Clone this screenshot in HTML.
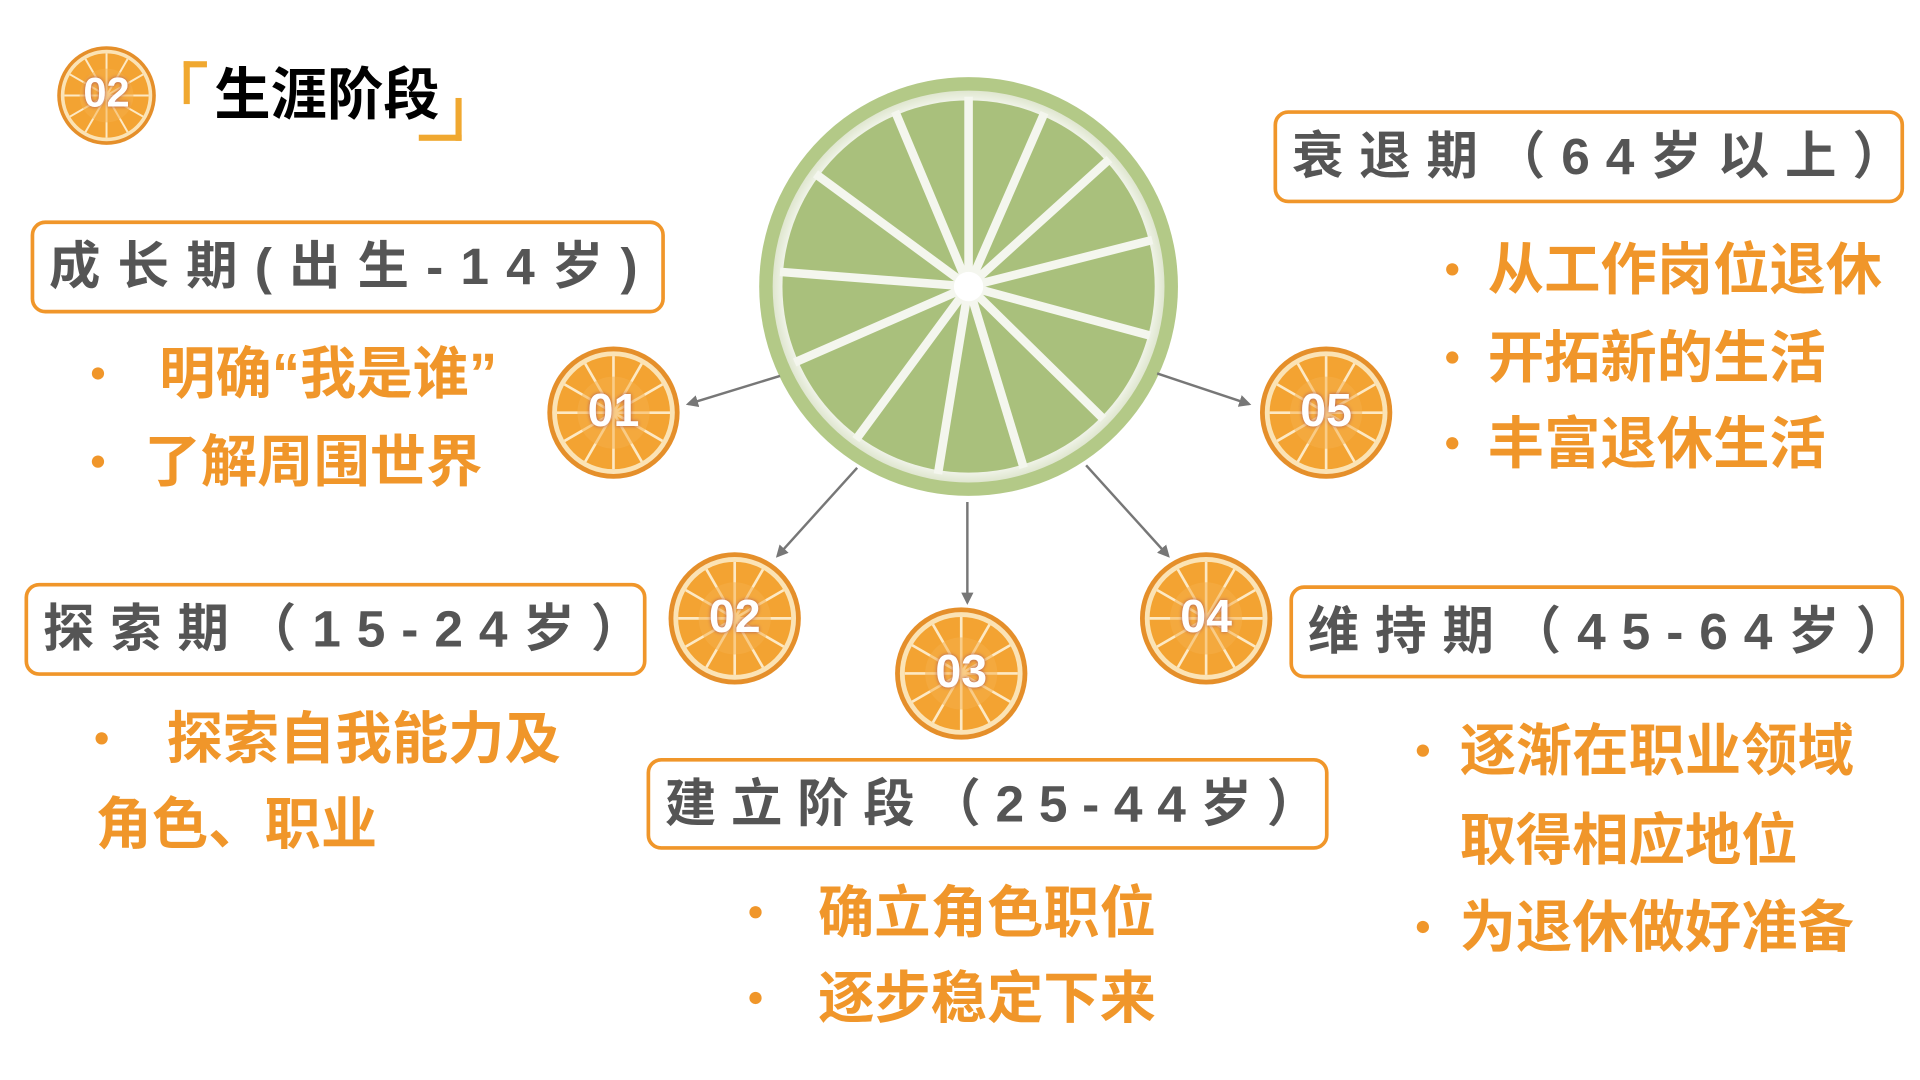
<!DOCTYPE html>
<html><head><meta charset="utf-8"><style>
html,body{margin:0;padding:0;background:#fff;width:1920px;height:1080px;overflow:hidden}
#w{position:absolute;left:0;top:0;width:1568px;height:882px;transform:scale(1.2245);transform-origin:0 0;font-family:"Liberation Sans","Noto Sans CJK SC",sans-serif}
.a{position:absolute;white-space:nowrap}
.box{position:absolute;border:3px solid #f0962a;border-radius:12px;box-sizing:border-box;background:#fff}
.bt{position:absolute;color:#555;font-weight:bold;font-size:42px;line-height:42px;white-space:nowrap;letter-spacing:13px}
.o{color:#f0962a;font-weight:bold;font-size:46px;line-height:50px}
.d{position:absolute;width:10px;height:10px;border-radius:50%;background:#f0962a}
.or{position:absolute}
.n{position:absolute;text-align:center;color:#fff;font-weight:bold;font-size:38px;line-height:44px;text-shadow:0 0 3px #a55}
</style></head><body><div id="w">
<svg width="0" height="0" style="position:absolute">
<defs>
<symbol id="org" viewBox="-56 -56 112 112">
<circle r="55" fill="#e58f2a"/>
<circle r="51" fill="#fbe3b5"/>
<circle r="47" fill="#f3a332"/>
<g stroke="#fde9c4" stroke-width="2.2">
<line x1="0" y1="0" x2="0" y2="-47"/><line x1="0" y1="0" x2="23.5" y2="-40.7"/><line x1="0" y1="0" x2="40.7" y2="-23.5"/>
<line x1="0" y1="0" x2="47" y2="0"/><line x1="0" y1="0" x2="40.7" y2="23.5"/><line x1="0" y1="0" x2="23.5" y2="40.7"/>
<line x1="0" y1="0" x2="0" y2="47"/><line x1="0" y1="0" x2="-23.5" y2="40.7"/><line x1="0" y1="0" x2="-40.7" y2="23.5"/>
<line x1="0" y1="0" x2="-47" y2="0"/><line x1="0" y1="0" x2="-40.7" y2="-23.5"/><line x1="0" y1="0" x2="-23.5" y2="-40.7"/>
</g>
<circle r="30" fill="#f6b04a" opacity="0.5"/>
</symbol>
<marker id="ar" markerWidth="10" markerHeight="10" refX="8" refY="5" orient="auto" markerUnits="userSpaceOnUse"><path d="M0,0 L10,5 L0,10 z" fill="#777"/></marker>
<radialGradient id="lg" r="0.5"><stop offset="0.9" stop-color="#ffffff"/><stop offset="1" stop-color="#dfe6cf"/></radialGradient>
</defs>
</svg>

<!-- header -->
<svg class="or" style="left:46px;top:37px" width="82" height="82"><use href="#org" width="82" height="82"/></svg>
<div class="n" style="left:46px;top:56px;width:82px;font-size:34px;line-height:40px">02</div>
<div class="a" style="left:150px;top:50px;width:14px;height:30px;border-left:5px solid #f0a830;border-top:5px solid #f0a830"></div>
<div class="a" style="left:175px;top:50px;font-size:46px;font-weight:bold;color:#000;line-height:54px">生涯阶段</div>
<div class="a" style="left:342px;top:80px;width:30px;height:30px;border-right:5px solid #f0a830;border-bottom:5px solid #f0a830"></div>

<!-- lime -->
<svg class="or" style="left:618px;top:61px" width="346" height="346" viewBox="-173 -173 346 346">
<circle r="171" fill="#b3c987"/>
<circle r="160" fill="url(#lg)"/>
<circle r="152" fill="#a9c07c"/>
<g stroke="#f4f6ee" stroke-width="7">
<line x1="0" y1="0" x2="0" y2="-155"/><line x1="0" y1="0" x2="62" y2="-142"/><line x1="0" y1="0" x2="115" y2="-104"/>
<line x1="0" y1="0" x2="150" y2="-38"/><line x1="0" y1="0" x2="148" y2="40"/><line x1="0" y1="0" x2="110" y2="108"/>
<line x1="0" y1="0" x2="45" y2="148"/><line x1="0" y1="0" x2="-25" y2="153"/><line x1="0" y1="0" x2="-92" y2="125"/>
<line x1="0" y1="0" x2="-142" y2="62"/><line x1="0" y1="0" x2="-154" y2="-12"/><line x1="0" y1="0" x2="-125" y2="-92"/>
<line x1="0" y1="0" x2="-60" y2="-143"/>
</g>
<circle r="12" fill="#fff"/>
</svg>

<!-- arrows -->
<svg class="or" style="left:0;top:0" width="1568" height="882">
<g stroke="#777" stroke-width="2" fill="none" marker-end="url(#ar)">
<line x1="637" y1="307" x2="562" y2="330"/>
<line x1="700" y1="382" x2="635" y2="454"/>
<line x1="790" y1="410" x2="790" y2="492"/>
<line x1="887" y1="380" x2="954" y2="454"/>
<line x1="945" y1="305" x2="1020" y2="330"/>
</g>
</svg>

<!-- oranges -->
<svg class="or" style="left:446px;top:282px" width="110" height="110"><use href="#org" width="110" height="110"/></svg>
<svg class="or" style="left:545px;top:450px" width="110" height="110"><use href="#org" width="110" height="110"/></svg>
<svg class="or" style="left:730px;top:495px" width="110" height="110"><use href="#org" width="110" height="110"/></svg>
<svg class="or" style="left:930px;top:450px" width="110" height="110"><use href="#org" width="110" height="110"/></svg>
<svg class="or" style="left:1028px;top:282px" width="110" height="110"><use href="#org" width="110" height="110"/></svg>
<div class="n" style="left:446px;top:314px;width:110px">01</div>
<div class="n" style="left:545px;top:482px;width:110px">02</div>
<div class="n" style="left:730px;top:527px;width:110px">03</div>
<div class="n" style="left:930px;top:482px;width:110px">04</div>
<div class="n" style="left:1028px;top:314px;width:110px">05</div>

<!-- boxes -->
<div class="box" style="left:25px;top:180px;width:518px;height:76px"></div>
<div class="bt" style="left:40px;top:197px;letter-spacing:14px">成长期(出生-14岁)</div>

<div class="box" style="left:20px;top:476px;width:508px;height:76px"></div>
<div class="bt" style="left:35px;top:493px">探索期（15-24岁）</div>

<div class="box" style="left:528px;top:619px;width:557px;height:75px"></div>
<div class="bt" style="left:543px;top:636px;letter-spacing:12px">建立阶段（25-44岁）</div>

<div class="box" style="left:1040px;top:90px;width:515px;height:76px"></div>
<div class="bt" style="left:1055px;top:107px">衰退期（64岁以上）</div>

<div class="box" style="left:1053px;top:478px;width:502px;height:76px"></div>
<div class="bt" style="left:1068px;top:495px">维持期（45-64岁）</div>

<!-- bullet texts -->
<div class="d" style="left:75px;top:300px"></div>
<div class="a o" style="left:130px;top:280px">明确“我是谁”</div>
<div class="d" style="left:75px;top:372px"></div>
<div class="a o" style="left:118px;top:352px">了解周围世界</div>

<div class="d" style="left:78px;top:598px"></div>
<div class="a o" style="left:136px;top:578px">探索自我能力及</div>
<div class="a o" style="left:78px;top:648px">角色、职业</div>

<div class="d" style="left:612px;top:740px"></div>
<div class="a o" style="left:668px;top:720px">确立角色职位</div>
<div class="d" style="left:612px;top:810px"></div>
<div class="a o" style="left:668px;top:790px">逐步稳定下来</div>

<div class="d" style="left:1181px;top:215px"></div>
<div class="a o" style="left:1215px;top:195px">从工作岗位退休</div>
<div class="d" style="left:1181px;top:287px"></div>
<div class="a o" style="left:1215px;top:267px">开拓新的生活</div>
<div class="d" style="left:1181px;top:357px"></div>
<div class="a o" style="left:1215px;top:337px">丰富退休生活</div>

<div class="d" style="left:1157px;top:608px"></div>
<div class="a o" style="left:1192px;top:588px">逐渐在职业领域</div>
<div class="a o" style="left:1192px;top:661px">取得相应地位</div>
<div class="d" style="left:1157px;top:752px"></div>
<div class="a o" style="left:1192px;top:732px">为退休做好准备</div>
</div></body></html>
